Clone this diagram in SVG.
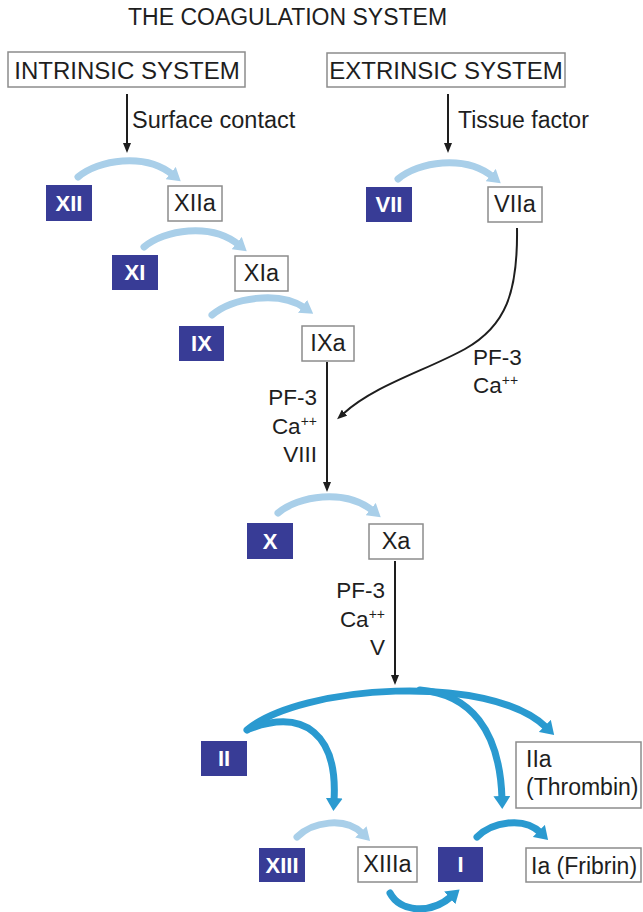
<svg xmlns="http://www.w3.org/2000/svg" width="643" height="912" viewBox="0 0 643 912">
  <style>
    text { font-family: "Liberation Sans", Arial, sans-serif; fill: #1e1e1e; }
    .title { font-size: 23px; }
    .sys { font-size: 24px; text-anchor: middle; }
    .lbl { font-size: 23px; }
    .cof { font-size: 22.5px; }
    .end { text-anchor: end; }
    .sup { font-size: 14px; }
    .pro rect { fill: #383c96; }
    .pro text { fill: #ffffff; font-weight: bold; font-size: 22px; text-anchor: middle; }
    .act rect, .box rect { fill: #ffffff; stroke: #8c8c8c; stroke-width: 1.5; }
    .act text { font-size: 23.5px; text-anchor: middle; }
    .blk { fill: none; stroke: #1e1e1e; stroke-width: 2; }
    .light { fill: none; stroke: #a9cfe9; stroke-width: 7; stroke-linecap: round; }
    .dark { fill: none; stroke: #2a9ad0; stroke-width: 7; stroke-linecap: round; }
  </style>
  <defs>
    <marker id="ah-black" markerUnits="userSpaceOnUse" markerWidth="10" markerHeight="8" refX="2" refY="4" orient="auto">
      <path d="M0,0 L10,4 L0,8 z" fill="#1e1e1e"/>
    </marker>
    <marker id="ah-light" markerUnits="userSpaceOnUse" markerWidth="14" markerHeight="16" refX="3" refY="8" orient="auto">
      <path d="M0,0 L13,8 L0,16 z" fill="#a9cfe9"/>
    </marker>
    <marker id="ah-dark" markerUnits="userSpaceOnUse" markerWidth="14" markerHeight="17" refX="3" refY="8.5" orient="auto">
      <path d="M0,0 L13,8.5 L0,17 z" fill="#2a9ad0"/>
    </marker>
  </defs>

  <rect width="643" height="912" fill="#ffffff"/>

  <text class="title" x="128" y="25">THE COAGULATION SYSTEM</text>

  <!-- pathway headers -->
  <g id="intrinsic" class="box">
    <rect x="8" y="52" width="237" height="35"/>
    <text class="sys" x="127" y="79">INTRINSIC SYSTEM</text>
  </g>
  <g id="extrinsic" class="box">
    <rect x="327" y="53" width="238" height="34"/>
    <text class="sys" x="446" y="79">EXTRINSIC SYSTEM</text>
  </g>

  <!-- inactive factors -->
  <g id="f12" class="pro"><rect x="46" y="185" width="46" height="36"/><text x="69" y="211">XII</text></g>
  <g id="f11" class="pro"><rect x="112" y="255" width="46" height="35"/><text x="135" y="280">XI</text></g>
  <g id="f9" class="pro"><rect x="179" y="326" width="45" height="35"/><text x="201.5" y="351">IX</text></g>
  <g id="f7" class="pro"><rect x="366" y="187" width="46" height="35"/><text x="389" y="212">VII</text></g>
  <g id="f10" class="pro"><rect x="247" y="523" width="46" height="36"/><text x="270" y="549">X</text></g>
  <g id="f2" class="pro"><rect x="201" y="741" width="46" height="35"/><text x="224" y="766">II</text></g>
  <g id="f13" class="pro"><rect x="259" y="848" width="46" height="34"/><text x="282" y="873">XIII</text></g>
  <g id="f1" class="pro"><rect x="438" y="847" width="45" height="35"/><text x="460.5" y="872">I</text></g>

  <!-- activated factors -->
  <g id="f12a" class="act"><rect x="168" y="186" width="54" height="35"/><text x="195" y="211">XIIa</text></g>
  <g id="f11a" class="act"><rect x="235" y="256" width="53" height="35"/><text x="261.5" y="281">XIa</text></g>
  <g id="f9a" class="act"><rect x="302" y="326" width="52" height="35"/><text x="328" y="351">IXa</text></g>
  <g id="f7a" class="act"><rect x="488" y="187" width="54" height="35"/><text x="515" y="212">VIIa</text></g>
  <g id="f10a" class="act"><rect x="369" y="524" width="54" height="35"/><text x="396" y="549">Xa</text></g>
  <g id="f13a" class="act"><rect x="358" y="847" width="59" height="35"/><text x="387.5" y="872">XIIIa</text></g>
  <g id="f2a" class="box">
    <rect x="516" y="742" width="125" height="66"/>
    <text class="lbl" x="526" y="767">IIa</text>
    <text class="lbl" x="526" y="795">(Thrombin)</text>
  </g>
  <g id="f1a" class="box">
    <rect x="526" y="848" width="115" height="34"/>
    <text class="lbl" x="531" y="874">Ia (Fribrin)</text>
  </g>

  <!-- connectors -->
  <g id="connectors">
    <!-- triggers and cofactor steps -->
    <path class="blk" d="M127,94 V145" marker-end="url(#ah-black)"/>
    <path class="blk" d="M448,94 V145" marker-end="url(#ah-black)"/>
    <path class="blk" d="M327,362 V484" marker-end="url(#ah-black)"/>
    <path class="blk" d="M395,561 V677" marker-end="url(#ah-black)"/>
    <path class="blk" d="M517,228 C518,292 506,326 465,349 C425,371 375,385 343,414" marker-end="url(#ah-black)"/>

    <!-- activation arcs -->
    <path class="light" d="M78,177 C98,160 145,152 173,175" marker-end="url(#ah-light)"/>
    <path class="light" d="M144,247 C164,230 211,222 239,245" marker-end="url(#ah-light)"/>
    <path class="light" d="M212,315 C232,298 279,290 305,308" marker-end="url(#ah-light)"/>
    <path class="light" d="M398,179 C418,162 465,154 493,177" marker-end="url(#ah-light)"/>
    <path class="light" d="M278,513 C298,496 345,488 373,511" marker-end="url(#ah-light)"/>
    <path class="light" d="M297,837 C312,822 345,816 363,834" marker-end="url(#ah-light)"/>

    <!-- thrombin actions -->
    <path class="dark" d="M247,730 C300,685 490,672 547,728" marker-end="url(#ah-dark)"/>
    <path class="dark" d="M420,690 C470,694 500,730 502,799" marker-end="url(#ah-dark)"/>
    <path class="dark" d="M249,729 C305,708 338,735 334,801" marker-end="url(#ah-dark)"/>
    <path class="dark" d="M477,837 C492,822 524,816 541,833" marker-end="url(#ah-dark)"/>
    <path class="dark" d="M390,893 C400,912 430,915 452,896" marker-end="url(#ah-dark)"/>
  </g>

  <!-- connector labels -->
  <text class="lbl" x="132" y="128" style="font-size:23.5px">Surface contact</text>
  <text class="lbl" x="458" y="128">Tissue factor</text>

  <text class="cof" x="473" y="365">PF-3</text>
  <text class="cof" x="473" y="393">Ca<tspan class="sup" dy="-8">++</tspan></text>

  <text class="cof end" x="317" y="405">PF-3</text>
  <text class="cof end" x="317" y="434">Ca<tspan class="sup" dy="-8">++</tspan></text>
  <text class="cof end" x="317" y="462">VIII</text>

  <text class="cof end" x="385" y="598">PF-3</text>
  <text class="cof end" x="385" y="627">Ca<tspan class="sup" dy="-8">++</tspan></text>
  <text class="cof end" x="385" y="655">V</text>
</svg>
